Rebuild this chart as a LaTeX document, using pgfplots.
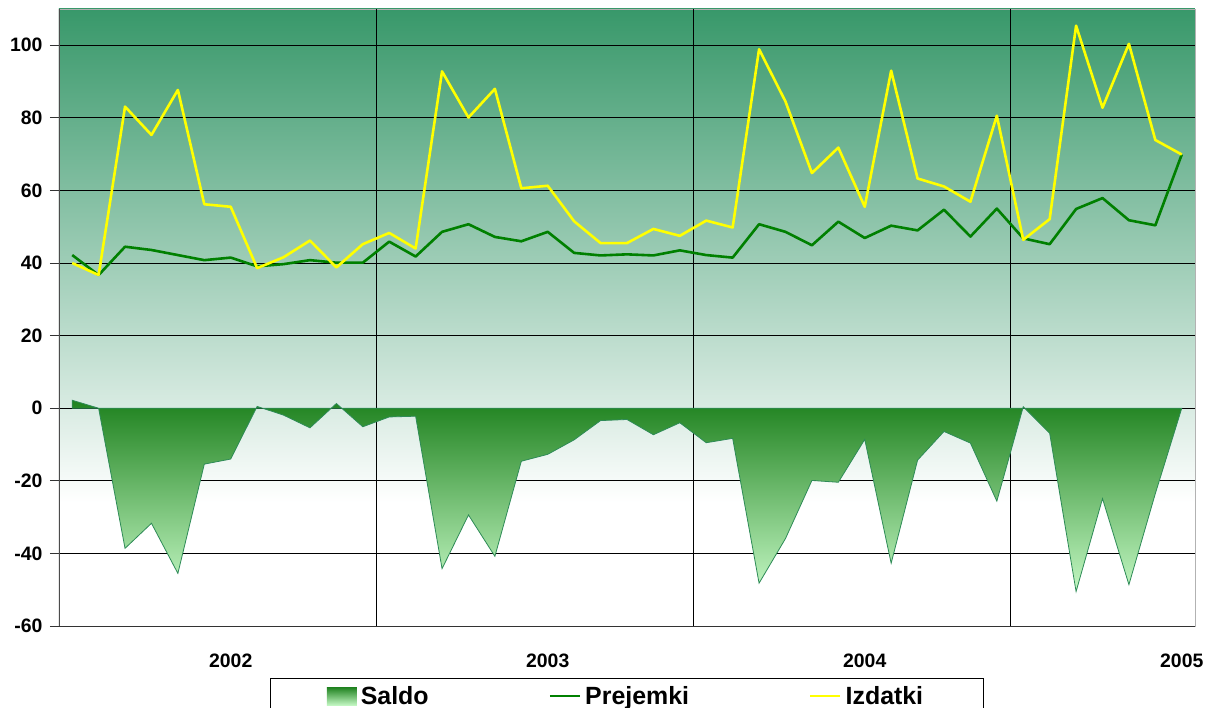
\documentclass[border=0pt]{standalone}
\usepackage{fontspec}
\setmainfont{Liberation Sans}
\usepackage{pgfplots}
\usepackage{pgfplotstable}
\pgfplotsset{compat=1.18}

\definecolor{topgreen}{RGB}{56,152,106}
\definecolor{saldoDark}{RGB}{31,130,31}
\definecolor{saldoLight}{RGB}{195,247,195}
\definecolor{saldoEdge}{RGB}{46,139,87}
\definecolor{prejColor}{RGB}{0,128,0}
\definecolor{izdColor}{RGB}{255,255,0}

\pgfdeclareverticalshading{bgshade}{100bp}{color(0bp)=(white); color(25bp)=(white); color(35bp)=(white); color(75bp)=(topgreen); color(100bp)=(topgreen)}

\pgfplotsset{
  lineleg/.style={legend image code/.code={\draw[##1] (0bp,0bp) -- (30bp,0bp);}},
  arealeg/.style={legend image code/.code={\draw[##1, draw=none] (0bp,-9bp) rectangle (30bp,9bp);}},
}

\pgfplotstableread{
x pre izd sal
0 42.2 40.0 2.2
1 36.7 36.7 0.0
2 44.5 83.1 -38.6
3 43.6 75.3 -31.7
4 42.2 87.7 -45.5
5 40.8 56.2 -15.4
6 41.5 55.5 -14.0
7 39.1 38.6 0.5
8 39.7 41.6 -1.9
9 40.8 46.2 -5.4
10 40.1 38.8 1.3
11 40.1 45.2 -5.1
12 45.9 48.3 -2.4
13 41.8 44.0 -2.2
14 48.6 92.8 -44.2
15 50.7 80.1 -29.4
16 47.2 88.0 -40.8
17 46.0 60.6 -14.6
18 48.6 61.3 -12.7
19 42.8 51.5 -8.7
20 42.1 45.5 -3.4
21 42.4 45.5 -3.1
22 42.1 49.4 -7.3
23 43.5 47.5 -4.0
24 42.2 51.7 -9.5
25 41.5 49.8 -8.3
26 50.7 98.9 -48.2
27 48.6 84.5 -35.9
28 44.9 64.8 -19.9
29 51.4 71.8 -20.4
30 46.9 55.5 -8.6
31 50.3 93.0 -42.7
32 49.0 63.3 -14.3
33 54.7 61.1 -6.4
34 47.3 56.9 -9.6
35 55.0 80.6 -25.6
36 46.8 46.4 0.4
37 45.2 52.1 -6.9
38 54.9 105.4 -50.5
39 57.9 82.8 -24.9
40 51.8 100.4 -48.6
41 50.4 73.9 -23.5
42 69.9 69.9 0.0
}\datatable

\begin{document}
\begin{tikzpicture}
\begin{axis}[
  at={(0,0)}, anchor=south west,
  scale only axis,
  width=1136bp, height=617bp,
  xmin=-0.5, xmax=42.5,
  ymin=-60, ymax=110,
  axis background/.style={shade, shading=bgshade},
  axis line style={draw=gray!60, line width=0.8bp},
  xtick={6,18,30,42},
  xticklabels={2002,2003,2004,2005},
  ytick={-60,-40,-20,0,20,40,60,80,100},
  yticklabels={-60,-40,-20,0,20,40,60,80,100},
  ymajorgrids=true,
  major grid style={black, line width=0.9bp},
  xtick style={draw=none},
  ytick pos=left,
  tick align=outside,
  major tick length=9bp,
  ytick style={black!80, line width=0.8bp},
  ticklabel style={font=\fontsize{19.5}{22}\selectfont\bfseries},
  yticklabel style={xshift=-4bp},
  xticklabel style={yshift=-15bp},
  extra x ticks={11.5,23.5,35.5},
  extra x tick labels={},
  extra x tick style={grid=major, major tick length=0pt},
  legend columns=3,
  legend style={
    at={(0.5,-0.0843)}, anchor=north,
    draw=black, line width=0.8bp, fill=white,
    inner xsep=56bp, inner ysep=4bp,
    font=\fontsize{25}{28}\selectfont\bfseries,
    /tikz/every even column/.append style={column sep=116bp},
    nodes={inner sep=4bp},
  },
]
\addplot[draw=saldoEdge, line width=0.8bp, shading=axis, top color=saldoDark, bottom color=saldoLight, arealeg]
  table[x=x, y=sal] {\datatable} \closedcycle;
\addlegendentry{Saldo}
\addplot[draw=prejColor, line width=2.6bp, line join=round, lineleg]
  table[x=x, y=pre] {\datatable};
\addlegendentry{Prejemki}
\addplot[draw=izdColor, line width=2.6bp, line join=round, lineleg]
  table[x=x, y=izd] {\datatable};
\addlegendentry{Izdatki}
\draw[black!70, line width=1.2bp] (rel axis cs:0,0) -- (rel axis cs:0,1);
\draw[black!80, line width=1bp] (rel axis cs:0,0) -- (rel axis cs:1,0);
\end{axis}
\pgfresetboundingbox
\path[use as bounding box] (-59bp,-82bp) rectangle (1147bp,626bp);
\end{tikzpicture}
\end{document}
